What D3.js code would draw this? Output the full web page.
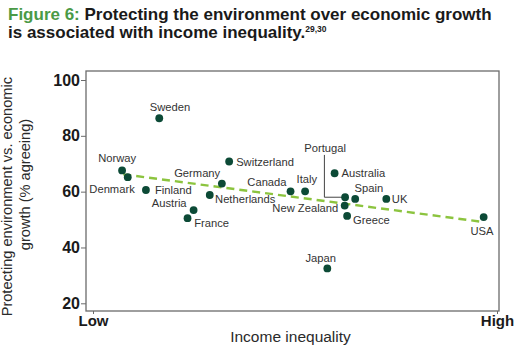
<!DOCTYPE html>
<html>
<head>
<meta charset="utf-8">
<script src="https://cdn.jsdelivr.net/npm/d3@7"></script>
<style>
  body { margin: 0; background: #fff; }
  svg { display: block; font-family: "Liberation Sans", Arial, sans-serif; }
</style>
</head>
<body>
<div id="chart"></div>
<script>
// data (x: 0 = Low, 1 = High income inequality)
const countries = ["Sweden", "Norway", "Denmark", "Finland", "Germany", "Switzerland",
  "Netherlands", "Austria", "France", "Canada", "Italy", "Portugal", "Australia",
  "Spain", "UK", "New Zealand", "Greece", "USA", "Japan"];
const inequality = [0.164, 0.072, 0.086, 0.131, 0.319, 0.337,
  0.289, 0.249, 0.234, 0.489, 0.525, 0.624, 0.598,
  0.649, 0.726, 0.623, 0.629, 0.967, 0.580];
const agreeing = [86.3, 67.6, 65.2, 60.6, 62.9, 70.8,
  58.8, 53.4, 50.5, 60.1, 60.1, 58.0, 66.6,
  57.4, 57.4, 55.0, 51.3, 50.9, 32.5];
const trendX = [0.075, 0.962];
const trendY = [66.2, 49.2];
const yTicks = [20, 40, 60, 80, 100];
const xTicks = [0, 1];
const xTickLabels = ["Low", "High"];

// label placement: [dx, dy, anchor] from the dot
const labelPos = {
  "Sweden": [10.7, -7.6, "middle"], "Norway": [-5, -8, "middle"],
  "Denmark": [7, 16, "end"], "Finland": [9, 4, "start"],
  "Germany": [-1.7, -6.4, "end"], "Switzerland": [7, 4.3, "start"],
  "Netherlands": [5.3, 7.7, "start"], "Austria": [-7, -2.7, "end"],
  "France": [6.6, 9, "start"], "Canada": [-4, -5.6, "end"],
  "Italy": [1.7, -8, "middle"], "Portugal": [-20, -45.6, "middle"],
  "Australia": [7, 3.4, "start"], "Spain": [13.7, -7.3, "middle"],
  "UK": [5.5, 4.5, "start"], "New Zealand": [-6.4, 6, "end"],
  "Greece": [6, 8.3, "start"], "USA": [-1.7, 18.3, "middle"],
  "Japan": [-6.6, -6, "middle"]
};

const W = 516, H = 351;
const frame = {left: 86, right: 499, top: 71, bottom: 311};

const svg = d3.select("#chart").append("svg")
  .attr("width", W).attr("height", H);

// title
const t1 = svg.append("text").attr("x", 8).attr("y", 19.5)
  .style("font-size", "17px").style("font-weight", "bold");
t1.append("tspan").attr("fill", "#4a9a46").text("Figure 6: ");
t1.append("tspan").attr("fill", "#1a1a1a").text("Protecting the environment over economic growth");
const t2 = svg.append("text").attr("x", 8).attr("y", 37.5)
  .style("font-size", "17px").style("font-weight", "bold").attr("fill", "#1a1a1a");
t2.append("tspan").text("is associated with income inequality.");
t2.append("tspan").attr("dy", -6).style("font-size", "8.5px").text("29,30");

const x = d3.scaleLinear().domain([0, 1]).range([93, 497]);
const y = d3.scaleLinear().domain([20, 100]).range([303.3, 80]);

// frame
svg.append("rect")
  .attr("x", frame.left).attr("y", frame.top)
  .attr("width", frame.right - frame.left).attr("height", frame.bottom - frame.top)
  .attr("fill", "none").attr("stroke", "#6b6b6b").attr("stroke-width", 1.3);

// axes
const yAxis = svg.append("g")
  .attr("transform", `translate(${frame.left},0)`)
  .call(d3.axisLeft(y).tickValues(yTicks).tickSize(5).tickPadding(1));
yAxis.select(".domain").remove();
yAxis.selectAll("line").attr("stroke", "#6b6b6b");
yAxis.selectAll("text").style("font-size", "16px").style("font-weight", "bold")
  .attr("fill", "#1a1a1a").style("font-family", "Liberation Sans, Arial, sans-serif");

const xAxis = svg.append("g")
  .attr("transform", `translate(0,${frame.bottom})`)
  .call(d3.axisBottom(x).tickValues(xTicks).tickSize(3).tickPadding(1)
    .tickFormat((d, i) => xTickLabels[i]));
xAxis.select(".domain").remove();
xAxis.selectAll("line").attr("stroke", "#6b6b6b");
xAxis.selectAll("text").style("font-size", "15px").style("font-weight", "bold")
  .attr("fill", "#1a1a1a").style("font-family", "Liberation Sans, Arial, sans-serif");

// axis titles
svg.append("text").attr("x", 290.5).attr("y", 341.5)
  .attr("text-anchor", "middle").style("font-size", "15.5px").attr("fill", "#2a2a2a")
  .text("Income inequality");
svg.append("text")
  .attr("transform", "translate(11.5,196.7) rotate(-90)")
  .attr("text-anchor", "middle").style("font-size", "14.6px").attr("fill", "#2a2a2a")
  .text("Protecting environment vs. economic");
svg.append("text")
  .attr("transform", "translate(29.5,184.5) rotate(-90)")
  .attr("text-anchor", "middle").style("font-size", "14.6px").attr("fill", "#2a2a2a")
  .text("growth (% agreeing)");

// trend line
const trend = trendX.map((d, i) => ({x: d, y: trendY[i]}));
svg.append("path").datum(trend)
  .attr("d", d3.line().x(d => x(d.x)).y(d => y(d.y)))
  .attr("fill", "none").attr("stroke", "#8cc43f")
  .attr("stroke-width", 2.4).attr("stroke-dasharray", "8,5");

const data = countries.map((c, i) => ({name: c, x: inequality[i], y: agreeing[i]}));

// Portugal leader line
const pt = data.find(d => d.name === "Portugal");
svg.append("path")
  .attr("d", `M${x(pt.x) - 3},${y(pt.y)} H${x(pt.x) - 20.7} V${y(pt.y) - 42.3}`)
  .attr("fill", "none").attr("stroke", "#444").attr("stroke-width", 1);

// dots
svg.append("g").selectAll("circle").data(data).join("circle")
  .attr("cx", d => x(d.x)).attr("cy", d => y(d.y)).attr("r", 3.9)
  .attr("fill", "#0c4a36");

// labels
svg.append("g").selectAll("text").data(data).join("text")
  .attr("x", d => x(d.x) + labelPos[d.name][0])
  .attr("y", d => y(d.y) + labelPos[d.name][1])
  .attr("text-anchor", d => labelPos[d.name][2])
  .style("font-size", "11.2px").attr("fill", "#333")
  .text(d => d.name);
</script>
</body>
</html>
